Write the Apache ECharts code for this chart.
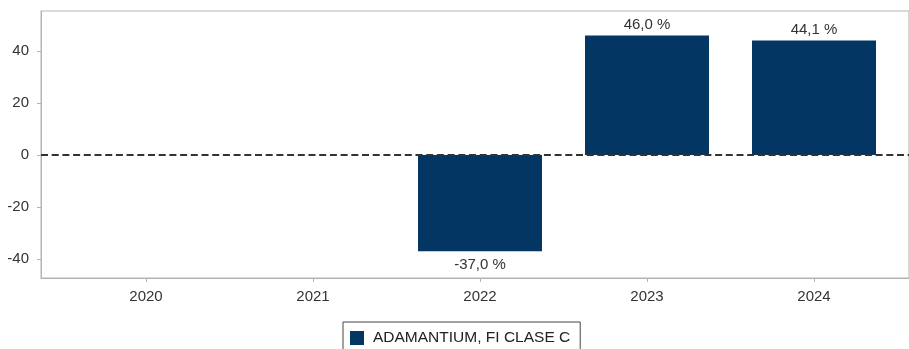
<!DOCTYPE html>
<html>
<head>
<meta charset="utf-8">
<script src="https://cdn.jsdelivr.net/npm/echarts@6/dist/echarts.min.js"></script>
<style>
html,body{margin:0;padding:0;background:#fff;}
#c{width:909px;height:349px;}
</style>
</head>
<body>
<div id="c"></div>
<script>
var categories = ['2020', '2021', '2022', '2023', '2024'];
var values = [null, null, -37.0, 46.0, 44.1];
var seriesName = 'ADAMANTIUM, FI CLASE C';
var yTicks = [-40, -20, 0, 20, 40];

var FONT = '"Liberation Sans", Arial, sans-serif';
var chart = echarts.init(document.getElementById('c'), null, {renderer: 'canvas'});
var yMin = -47.3, yMax = 55.4;
var barData = values.map(function (v) {
  if (v == null) return null;
  return v < 0 ? {value: v, label: {position: 'bottom', distance: 6}} : {value: v};
});
var option = {
  animation: false,
  backgroundColor: '#ffffff',
  textStyle: {fontFamily: FONT},
  grid: [
    {left: 41, right: -2, top: 11, bottom: 71, show: true, borderColor: '#b4b4b4', borderWidth: 1, backgroundColor: 'transparent'},
    {left: 62.5, right: 11.5, top: 11, bottom: 71}
  ],
  xAxis: [
    {gridIndex: 0, type: 'value', min: 0, max: 1, axisLine: {show: true, onZero: false, lineStyle: {color: '#b4b4b4'}}, axisTick: {show: false}, axisLabel: {show: false}, splitLine: {show: false}},
    {gridIndex: 1, type: 'category', data: categories, axisLine: {show: false, onZero: false},
     axisTick: {show: true, alignWithLabel: true, length: 4, lineStyle: {color: '#b4b4b4'}},
     axisLabel: {color: '#333', fontSize: 15, margin: 11, fontFamily: FONT}, splitLine: {show: false}}
  ],
  yAxis: [
    {gridIndex: 0, type: 'value', min: yMin, max: yMax,
     axisLine: {show: true, onZero: false, lineStyle: {color: '#b4b4b4'}},
     axisTick: {show: true, length: 4, customValues: yTicks, lineStyle: {color: '#b4b4b4'}},
     axisLabel: {customValues: yTicks, color: '#333', fontSize: 15, margin: 12, fontFamily: FONT},
     splitLine: {show: false}},
    {gridIndex: 1, type: 'value', min: yMin, max: yMax, show: false, splitLine: {show: false}}
  ],
  legend: {
    left: 343, top: 322,
    padding: [8, 10, 8, 7],
    itemWidth: 14, itemHeight: 14,
    borderColor: '#444', borderWidth: 1,
    textStyle: {color: '#222', fontSize: 15.5, fontFamily: FONT, padding: [0, 0, 0, 4]},
    data: [{name: seriesName, icon: 'rect'}]
  },
  series: [
    {
      name: seriesName, type: 'bar', xAxisIndex: 1, yAxisIndex: 1,
      data: barData, barWidth: 124,
      itemStyle: {color: '#033662'},
      label: {
        show: true, fontSize: 15, color: '#333', fontFamily: FONT,
        formatter: function (p) { return p.value == null ? '' : p.value.toFixed(1).replace('.', ',') + ' %'; },
        position: 'top', distance: 3
      },
      z: 2
    },
    {
      name: '_zero', type: 'line', xAxisIndex: 0, yAxisIndex: 0,
      data: [[0, 0]], showSymbol: false, symbol: 'none', lineStyle: {opacity: 0},
      silent: true, z: 10,
      markLine: {
        silent: true, symbol: 'none', animation: false,
        label: {show: false},
        lineStyle: {type: [7, 3.7], color: '#333', width: 2},
        data: [{yAxis: 0}]
      }
    }
  ]
};
chart.setOption(option);
</script>
</body>
</html>
